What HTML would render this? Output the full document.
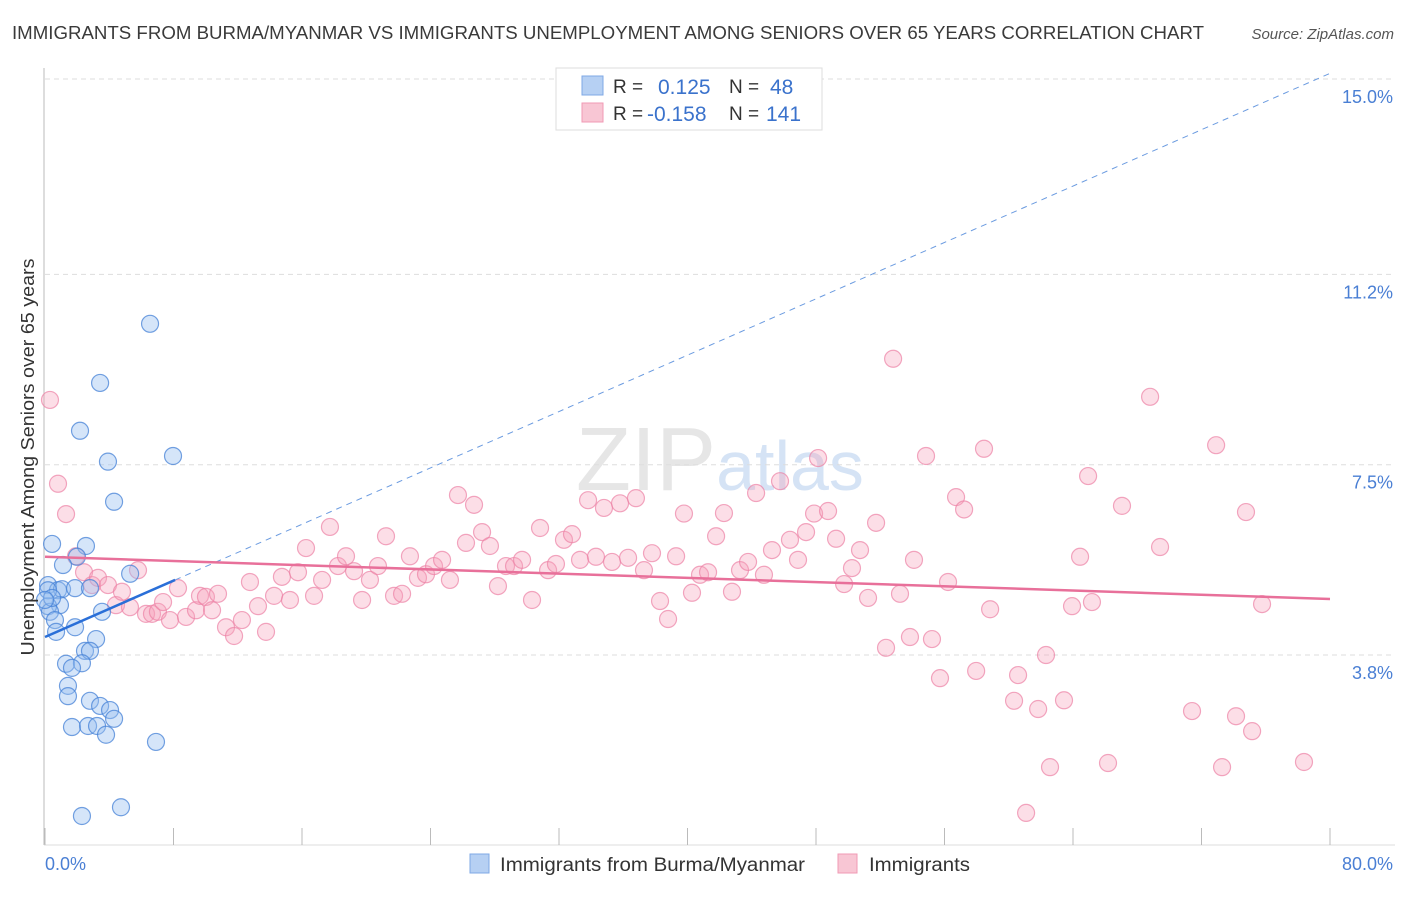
<!DOCTYPE html>
<html><head><meta charset="utf-8"><style>
body{margin:0;background:#fff;font-family:"Liberation Sans",sans-serif}
svg text{font-family:"Liberation Sans",sans-serif}
</style></head><body>
<svg id="chart" width="1406" height="892" viewBox="0 0 1406 892" xmlns="http://www.w3.org/2000/svg">
<text x="12" y="39" font-size="18" fill="#3a3a3a" textLength="1192" lengthAdjust="spacingAndGlyphs">IMMIGRANTS FROM BURMA/MYANMAR VS IMMIGRANTS UNEMPLOYMENT AMONG SENIORS OVER 65 YEARS CORRELATION CHART</text>
<text x="1394" y="39" font-size="15" fill="#555" font-style="italic" text-anchor="end">Source: ZipAtlas.com</text>
<text x="720" y="490" font-size="90" fill="#e6e6e6" text-anchor="middle" font-family="Liberation Serif">ZIP<tspan fill="#d5e3f5" font-family="Liberation Sans" font-size="70">atlas</tspan></text>
<g id="grid"></g><g id="axes"></g><g id="pink"></g><g id="blue"></g><g id="trend"></g>
<text transform="translate(34,457) rotate(-90)" font-size="18" fill="#333" text-anchor="middle" textLength="397" lengthAdjust="spacingAndGlyphs">Unemployment Among Seniors over 65 years</text>
<text x="45" y="870" font-size="18" fill="#4a7fd4">0.0%</text>
<text x="1393" y="870" font-size="18" fill="#4a7fd4" text-anchor="end">80.0%</text>
<g>
<rect x="556" y="68" width="266" height="62" fill="#fff" stroke="#ddd"/>
<rect x="582" y="76" width="21" height="19" fill="#b6d0f3" stroke="#7fa8e6"/>
<rect x="582" y="103" width="21" height="19" fill="#f8c6d4" stroke="#f09ab4"/>
<text x="613" y="93" font-size="19" fill="#333">R =</text><text x="658" y="94" font-size="21" fill="#3a72cc">0.125</text>
<text x="729" y="93" font-size="19" fill="#333">N =</text><text x="770" y="94" font-size="21" fill="#3a72cc">48</text>
<text x="613" y="120" font-size="19" fill="#333">R =</text><text x="647" y="121" font-size="21" fill="#3a72cc">-0.158</text>
<text x="729" y="120" font-size="19" fill="#333">N =</text><text x="766" y="121" font-size="21" fill="#3a72cc">141</text>
</g>
<g>
<rect x="470" y="854" width="19" height="19" fill="#b6d0f3" stroke="#7fa8e6"/>
<text x="500" y="871" font-size="19" fill="#333" textLength="305" lengthAdjust="spacingAndGlyphs">Immigrants from Burma/Myanmar</text>
<rect x="838" y="854" width="19" height="19" fill="#f8c6d4" stroke="#f09ab4"/>
<text x="869" y="871" font-size="19" fill="#333" textLength="101" lengthAdjust="spacingAndGlyphs">Immigrants</text>
</g>
</svg>
<script>
const yTicks=[15.0,11.2,7.5,3.8];
const yTickLabels=["15.0%","11.2%","7.5%","3.8%"];
const xTicks=[0,8,16,24,32,40,48,56,64,72,80];
const blueX=[6.54,3.43,2.18,3.92,7.97,4.30,0.44,2.55,1.99,1.12,0.19,0.81,1.06,1.87,2.80,5.30,0.93,0.19,0.31,3.55,0.62,1.87,0.69,3.18,2.49,2.80,1.31,2.30,1.68,1.43,1.43,2.80,3.43,4.05,4.30,1.68,2.68,3.24,3.80,6.91,2.30,4.73,0.19,0.44,0];
const blueY=[10.24,9.09,8.16,7.56,7.67,6.78,5.96,5.92,5.71,5.55,5.16,5.06,5.08,5.10,5.10,5.38,4.77,4.75,4.64,4.64,4.48,4.34,4.25,4.11,3.88,3.88,3.63,3.64,3.55,3.20,3.00,2.91,2.81,2.73,2.56,2.40,2.42,2.42,2.25,2.11,0.67,0.84,5.06,4.91,4.87];
const pinkX=[0.31,0.81,1.31,1.93,2.43,2.93,3.30,3.92,4.42,4.79,5.29,5.79,6.29,6.66,7.03,7.35,7.78,8.28,8.78,9.40,9.65,10.02,10.40,10.77,11.27,11.77,12.26,12.76,13.26,13.76,14.26,14.75,15.25,15.75,16.25,16.75,17.25,17.74,18.24,18.74,19.24,19.74,20.23,20.73,21.23,21.73,22.23,22.72,23.22,23.72,24.22,24.72,25.21,25.71,26.21,26.71,27.21,27.70,28.20,28.70,29.20,29.70,30.32,30.82,31.32,31.81,32.31,32.81,33.31,33.81,34.30,34.80,35.30,35.80,36.30,36.79,37.29,37.79,38.29,38.79,39.29,39.78,40.28,40.78,41.28,41.78,42.27,42.77,43.27,43.77,44.27,44.76,45.26,45.76,46.38,46.88,47.38,47.88,48.13,48.75,49.25,49.75,50.24,50.74,51.24,51.74,52.36,52.80,53.23,53.85,54.10,54.85,55.22,55.72,56.22,56.72,57.22,57.97,58.46,58.84,60.33,60.58,61.08,61.83,62.32,62.57,63.44,63.94,64.44,64.94,65.18,66.18,67.05,68.80,69.42,71.41,72.91,73.28,74.15,74.77,75.15,75.77,78.38];
const pinkY=[8.76,7.13,6.54,5.72,5.41,5.16,5.30,5.16,4.77,5.03,4.73,5.45,4.60,4.60,4.64,4.83,4.48,5.10,4.54,4.67,4.95,4.93,4.67,4.99,4.34,4.17,4.48,5.22,4.75,4.25,4.95,5.32,4.87,5.41,5.88,4.95,5.26,6.29,5.53,5.72,5.43,4.87,5.26,5.53,6.11,4.95,4.99,5.72,5.30,5.37,5.53,5.65,5.26,6.91,5.98,6.72,6.19,5.92,5.14,5.53,5.53,5.65,4.87,6.27,5.45,5.57,6.04,6.15,5.65,6.81,5.71,6.66,5.61,6.75,5.69,6.85,5.45,5.78,4.85,4.50,5.72,6.55,5.01,5.36,5.41,6.11,6.56,5.03,5.45,5.61,6.95,5.36,5.84,7.18,6.04,5.65,6.19,6.55,7.63,6.60,6.06,5.18,5.49,5.84,4.91,6.37,3.94,9.56,4.99,4.15,5.65,7.67,4.11,3.35,5.22,6.87,6.63,3.49,7.81,4.69,2.91,3.41,0.73,2.75,3.80,1.62,2.92,4.75,5.71,7.28,4.83,1.70,6.70,8.82,5.90,2.71,7.88,1.62,2.61,6.58,2.32,4.79,1.72];
const blueTrend=[4.15,0.137];   // intercept, slope
const pinkTrend=[5.71,-0.01025];
const X=v=>45+v*(1285/80), Y=v=>79+(15-v)*51.43;
const NS="http://www.w3.org/2000/svg";
function mk(t,a,p){const e=document.createElementNS(NS,t);for(const k in a)e.setAttribute(k,a[k]);document.getElementById(p).appendChild(e);return e;}
yTicks.forEach((t,i)=>{
  const l=mk('line',{x1:45,x2:1395,y1:Y(t),y2:Y(t),stroke:'#ddd','stroke-dasharray':'5,4'},'grid');
  
  
  const tx=mk('text',{x:1393,y:Y(t)+24,'font-size':18,fill:'#4a7fd4','text-anchor':'end'},'grid');
  tx.textContent=yTickLabels[i];
  
  
});
const ax=mk('line',{x1:44,x2:44,y1:68,y2:845,stroke:'#bbb'},'axes');


const bx=mk('line',{x1:44,x2:1395,y1:845,y2:845,stroke:'#ddd'},'axes');


xTicks.forEach(t=>{
  const l=mk('line',{x1:X(t),x2:X(t),y1:828,y2:845,stroke:'#bbb'},'axes');
  
  
});
pinkX.forEach((x,i)=>{
  const c=mk('circle',{cx:X(x),cy:Y(pinkY[i]),r:8.5,fill:'rgba(245,160,185,0.35)',stroke:'rgba(236,130,165,0.7)','stroke-width':1.2},'pink');
  
  
});
blueX.forEach((x,i)=>{
  const c=mk('circle',{cx:X(x),cy:Y(blueY[i]),r:8.5,fill:'rgba(150,190,240,0.4)',stroke:'rgba(70,130,215,0.75)','stroke-width':1.2},'blue');
  
  
});
const bEnd=8.1;
const bd=mk('line',{x1:X(bEnd),y1:Y(blueTrend[0]+blueTrend[1]*bEnd),x2:X(80),y2:Y(blueTrend[0]+blueTrend[1]*80),stroke:'#6b9be0','stroke-width':1,'stroke-dasharray':'6,5'},'trend');


const bs=mk('line',{x1:X(0),y1:Y(blueTrend[0]),x2:X(bEnd),y2:Y(blueTrend[0]+blueTrend[1]*bEnd),stroke:'#2a6fd8','stroke-width':2.5},'trend');


const ps=mk('line',{x1:X(0),y1:Y(pinkTrend[0]),x2:X(80),y2:Y(pinkTrend[0]+pinkTrend[1]*80),stroke:'#e8709a','stroke-width':2.5},'trend');


</script>
</body></html>
